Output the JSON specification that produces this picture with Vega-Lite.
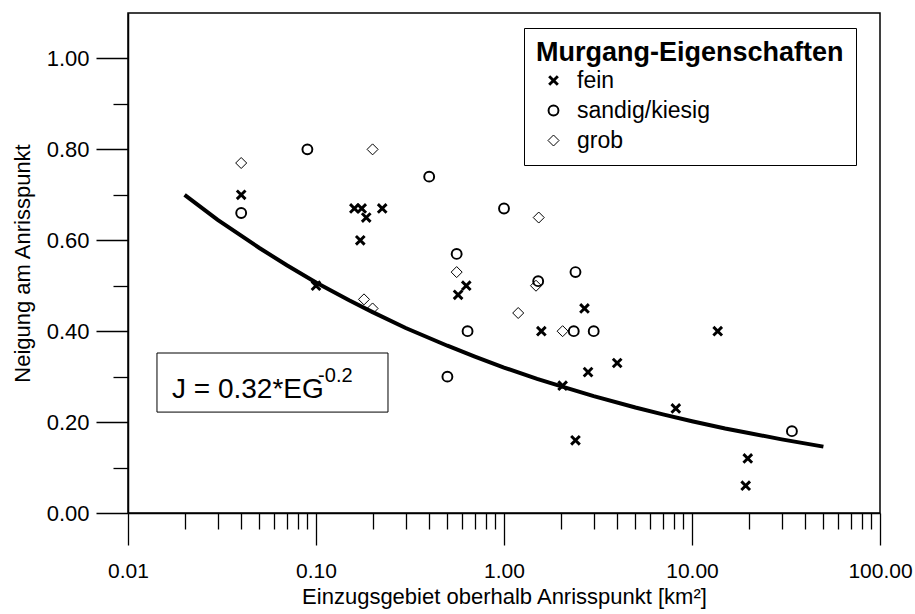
{
  "$schema": "https://vega.github.io/schema/vega-lite/v6.json",
  "width": 752,
  "height": 500,
  "autosize": "none",
  "padding": {"left": 128, "top": 13, "right": 35, "bottom": 101},
  "background": "white",
  "config": {
    "view": {"stroke": "black", "strokeWidth": 1.5},
    "font": "Liberation Sans",
    "axis": {
      "domainColor": "black", "tickColor": "black", "labelColor": "black", "titleColor": "black",
      "grid": false, "labelFont": "Liberation Sans", "titleFont": "Liberation Sans",
      "titleFontWeight": "normal", "domainWidth": 1.5, "tickWidth": 1.3
    }
  },
  "datasets": {
    "punkte": [
      {"eg": 0.04, "j": 0.70, "typ": "fein"},
      {"eg": 0.16, "j": 0.67, "typ": "fein"},
      {"eg": 0.175, "j": 0.67, "typ": "fein"},
      {"eg": 0.185, "j": 0.65, "typ": "fein"},
      {"eg": 0.225, "j": 0.67, "typ": "fein"},
      {"eg": 0.172, "j": 0.60, "typ": "fein"},
      {"eg": 0.10, "j": 0.50, "typ": "fein"},
      {"eg": 0.63, "j": 0.50, "typ": "fein"},
      {"eg": 0.57, "j": 0.48, "typ": "fein"},
      {"eg": 2.68, "j": 0.45, "typ": "fein"},
      {"eg": 1.58, "j": 0.40, "typ": "fein"},
      {"eg": 13.7, "j": 0.40, "typ": "fein"},
      {"eg": 4.0, "j": 0.33, "typ": "fein"},
      {"eg": 2.8, "j": 0.31, "typ": "fein"},
      {"eg": 2.05, "j": 0.28, "typ": "fein"},
      {"eg": 8.2, "j": 0.23, "typ": "fein"},
      {"eg": 2.4, "j": 0.16, "typ": "fein"},
      {"eg": 19.8, "j": 0.12, "typ": "fein"},
      {"eg": 19.3, "j": 0.06, "typ": "fein"},
      {"eg": 0.04, "j": 0.66, "typ": "sandig/kiesig"},
      {"eg": 0.09, "j": 0.80, "typ": "sandig/kiesig"},
      {"eg": 0.40, "j": 0.74, "typ": "sandig/kiesig"},
      {"eg": 1.0, "j": 0.67, "typ": "sandig/kiesig"},
      {"eg": 0.56, "j": 0.57, "typ": "sandig/kiesig"},
      {"eg": 0.64, "j": 0.40, "typ": "sandig/kiesig"},
      {"eg": 0.50, "j": 0.30, "typ": "sandig/kiesig"},
      {"eg": 1.52, "j": 0.51, "typ": "sandig/kiesig"},
      {"eg": 2.4, "j": 0.53, "typ": "sandig/kiesig"},
      {"eg": 2.35, "j": 0.40, "typ": "sandig/kiesig"},
      {"eg": 3.0, "j": 0.40, "typ": "sandig/kiesig"},
      {"eg": 34.0, "j": 0.18, "typ": "sandig/kiesig"},
      {"eg": 0.04, "j": 0.77, "typ": "grob"},
      {"eg": 0.20, "j": 0.80, "typ": "grob"},
      {"eg": 1.53, "j": 0.65, "typ": "grob"},
      {"eg": 0.56, "j": 0.53, "typ": "grob"},
      {"eg": 0.18, "j": 0.47, "typ": "grob"},
      {"eg": 0.20, "j": 0.45, "typ": "grob"},
      {"eg": 1.19, "j": 0.44, "typ": "grob"},
      {"eg": 1.48, "j": 0.50, "typ": "grob"},
      {"eg": 2.05, "j": 0.40, "typ": "grob"}
    ],
    "kurve": [
      {"eg": 0.02, "j": 0.700},
      {"eg": 0.03, "j": 0.645},
      {"eg": 0.05, "j": 0.583},
      {"eg": 0.07, "j": 0.545},
      {"eg": 0.1, "j": 0.507},
      {"eg": 0.15, "j": 0.468},
      {"eg": 0.2, "j": 0.442},
      {"eg": 0.3, "j": 0.407},
      {"eg": 0.5, "j": 0.368},
      {"eg": 0.7, "j": 0.344},
      {"eg": 1.0, "j": 0.320},
      {"eg": 1.5, "j": 0.295},
      {"eg": 2.0, "j": 0.279},
      {"eg": 3.0, "j": 0.257},
      {"eg": 5.0, "j": 0.232},
      {"eg": 7.0, "j": 0.217},
      {"eg": 10.0, "j": 0.202},
      {"eg": 15.0, "j": 0.186},
      {"eg": 20.0, "j": 0.176},
      {"eg": 30.0, "j": 0.162},
      {"eg": 50.0, "j": 0.146}
    ]
  },
  "layer": [
    {
      "data": {"name": "kurve"},
      "mark": {"type": "line", "color": "black", "strokeWidth": 4},
      "encoding": {
        "x": {
          "field": "eg", "type": "quantitative",
          "scale": {"type": "log", "domain": [0.01, 100], "nice": false},
          "axis": {
            "orient": "bottom", "values": [0.02,0.03,0.04,0.05,0.06,0.07,0.08,0.09,0.2,0.3,0.4,0.5,0.6,0.7,0.8,0.9,2,3,4,5,6,7,8,9,20,30,40,50,60,70,80,90],
            "tickSize": 16, "labels": false, "domain": false, "title": null
          }
        },
        "y": {
          "field": "j", "type": "quantitative",
          "scale": {"domain": [0, 1.1], "nice": false, "zero": false},
          "axis": {
            "orient": "left", "values": [0.1, 0.3, 0.5, 0.7, 0.9],
            "tickSize": 15, "labels": false, "domain": false, "title": null
          }
        }
      }
    },
    {
      "data": {"name": "punkte"},
      "mark": {"type": "point", "filled": false, "stroke": "black", "opacity": 1},
      "encoding": {
        "x": {
          "field": "eg", "type": "quantitative",
          "scale": {"type": "log", "domain": [0.01, 100], "nice": false},
          "axis": {
            "orient": "bottom", "values": [0.01, 0.1, 1, 10, 100], "format": ".2f",
            "tickSize": 32, "labelFontSize": 21, "labelPadding": 15, "labelFlush": false, "labelOverlap": false,
            "title": "Einzugsgebiet oberhalb Anrisspunkt [km²]", "titleFontSize": 22, "titlePadding": 5
          }
        },
        "y": {
          "field": "j", "type": "quantitative",
          "scale": {"domain": [0, 1.1], "nice": false, "zero": false},
          "axis": {
            "orient": "left", "values": [0, 0.2, 0.4, 0.6, 0.8, 1.0], "format": ".2f",
            "tickSize": 32, "labelFontSize": 22, "labelPadding": 7, "labelOverlap": false,
            "title": "Neigung am Anrisspunkt", "titleFontSize": 22, "titlePadding": 12
          }
        },
        "shape": {
          "field": "typ", "type": "nominal",
          "scale": {"domain": ["fein", "sandig/kiesig", "grob"], "range": ["M-1,-1L1,1M-1,1L1,-1", "circle", "diamond"]},
          "legend": {
            "title": "Murgang-Eigenschaften", "orient": "none", "legendX": 396, "legendY": 15,
            "titleFontSize": 27, "titleFontWeight": "bold", "titleColor": "black", "titleFont": "Liberation Sans", "titleLimit": 1000,
            "labelFontSize": 23, "labelColor": "black", "labelFont": "Liberation Sans", "labelOffset": 12, "labelLimit": 1000,
            "fillColor": "white", "strokeColor": "black", "padding": 12, "rowPadding": 6, "titlePadding": 2,
            "symbolStrokeColor": "black", "symbolOffset": 6,
            "encode": {"labels": {"enter": {"fontStyle": {"signal": "datum.label === 'fein' ? 'italic' : 'normal'"}}, "update": {"fontStyle": {"signal": "datum.label === 'fein' ? 'italic' : 'normal'"}}}}
          }
        },
        "size": {
          "field": "typ", "type": "nominal",
          "scale": {"domain": ["fein", "sandig/kiesig", "grob"], "range": [75, 121, 144]}
        },
        "strokeWidth": {
          "field": "typ", "type": "nominal",
          "scale": {"domain": ["fein", "sandig/kiesig", "grob"], "range": [2.9, 1, 1]}
        }
      }
    },
    {
      "data": {"values": [{}]},
      "mark": {"type": "rect", "fill": "white", "stroke": "black", "strokeWidth": 1},
      "encoding": {
        "x": {"datum": 0.01426, "type": "quantitative", "axis": null},
        "x2": {"datum": 0.2415},
        "y": {"datum": 0.352, "type": "quantitative", "axis": null},
        "y2": {"datum": 0.222}
      }
    },
    {
      "data": {"values": [{}]},
      "mark": {"type": "text", "align": "left", "baseline": "alphabetic", "fontSize": 28, "font": "Liberation Sans", "color": "black"},
      "encoding": {
        "x": {"datum": 0.01714, "type": "quantitative", "axis": null},
        "y": {"datum": 0.253, "type": "quantitative", "axis": null},
        "text": {"value": "J = 0.32*EG"}
      }
    },
    {
      "data": {"values": [{}]},
      "mark": {"type": "text", "align": "left", "baseline": "alphabetic", "fontSize": 20, "font": "Liberation Sans", "color": "black"},
      "encoding": {
        "x": {"datum": 0.1026, "type": "quantitative", "axis": null},
        "y": {"datum": 0.2885, "type": "quantitative", "axis": null},
        "text": {"value": "-0.2"}
      }
    }
  ],
  "resolve": {"axis": {"x": "independent", "y": "independent"}}
}
